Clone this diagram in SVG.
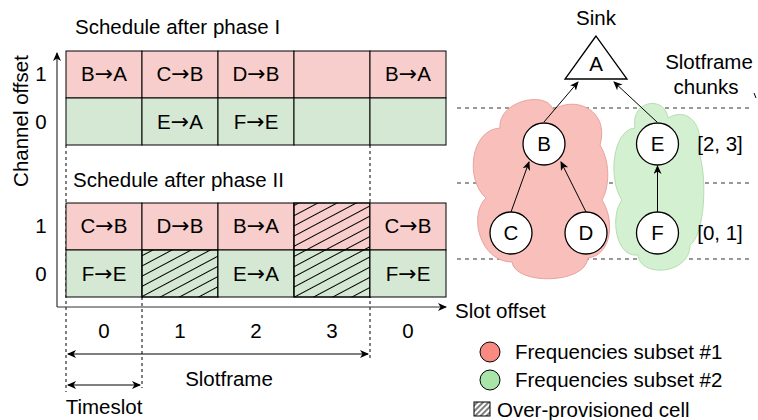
<svg xmlns="http://www.w3.org/2000/svg" width="758" height="420" viewBox="0 0 758 420">
<style>
text{font-family:"Liberation Sans",Arial,sans-serif;font-size:20.5px;fill:#000}
.m{text-anchor:middle}
.ar{font-family:"DejaVu Sans",sans-serif;font-size:22px}
.red{fill:#f8cecc;stroke:#000;stroke-width:1}
.grn{fill:#d5e8d4;stroke:#000;stroke-width:1}
.hat{fill:url(#hatch);stroke:#000;stroke-width:1}
.dash{stroke:#000;stroke-width:1;stroke-dasharray:3 3;fill:none}
.hdash{stroke:#333;stroke-width:1;stroke-dasharray:4 4;fill:none}
.node{fill:#fff;stroke:#000;stroke-width:1.3}
.conn{stroke:#000;stroke-width:1;fill:none;marker-end:url(#arr)}
</style>
<defs>
<marker id="arr" markerWidth="10" markerHeight="10" refX="8" refY="4" orient="auto-start-reverse" markerUnits="userSpaceOnUse">
<path d="M0,0 L9,4 L0,8 L2.5,4 Z" fill="#000"/>
</marker>
<pattern id="hatch" patternUnits="userSpaceOnUse" width="9" height="9" patternTransform="rotate(-28)">
<line x1="0" y1="4.5" x2="9" y2="4.5" stroke="#000" stroke-width="1"/>
</pattern>
<pattern id="hatchL" patternUnits="userSpaceOnUse" width="4" height="4" patternTransform="rotate(-45)">
<line x1="0" y1="2" x2="4" y2="2" stroke="#000" stroke-width="1"/>
</pattern>
</defs>

<!-- guide dashed lines -->
<g id="guides">
<line class="dash" x1="66" y1="145" x2="66" y2="392"/>
<line class="dash" x1="142" y1="297" x2="142" y2="388"/>
<line class="dash" x1="370" y1="145" x2="370" y2="358"/>
<line class="hdash" x1="457" y1="108" x2="752" y2="108"/>
<line class="hdash" x1="457" y1="183" x2="752" y2="183"/>
<line class="hdash" x1="457" y1="259" x2="752" y2="259"/>
<line x1="754" y1="93" x2="756" y2="98" stroke="#000" stroke-width="1"/>
</g>

<!-- clouds -->
<g id="cloud-red">
<path d="M500,128 C498,100 548,90 553,110 C575,95 610,110 600,145 C612,165 608,190 602,200 C615,220 612,255 588,258 C585,285 515,285 512,262 C480,262 468,215 486,198 C465,180 470,130 500,128 Z" fill="#f8bfbb" stroke="#e8a4a0" stroke-width="1"/>
</g>
<g id="cloud-green">
<path d="M635,128 C630,100 665,95 668,118 C690,105 705,130 698,150 C708,175 705,235 690,245 C690,275 640,278 638,255 C615,258 610,215 622,200 C608,180 612,130 635,128 Z" fill="#d3f0d0" stroke="#b5dfb0" stroke-width="1"/>
</g>

<!-- top schedule -->
<g id="schedule1">
<text x="75" y="34">Schedule after phase I</text>
<rect class="red" x="66" y="51" width="76" height="47"/>
<rect class="red" x="142" y="51" width="76" height="47"/>
<rect class="red" x="218" y="51" width="76" height="47"/>
<rect class="red" x="294" y="51" width="76" height="47"/>
<rect class="red" x="370" y="51" width="76" height="47"/>
<rect class="grn" x="66" y="98" width="76" height="47"/>
<rect class="grn" x="142" y="98" width="76" height="47"/>
<rect class="grn" x="218" y="98" width="76" height="47"/>
<rect class="grn" x="294" y="98" width="76" height="47"/>
<rect class="grn" x="370" y="98" width="76" height="47"/>
<text class="m" x="104" y="81">B<tspan class="ar">→</tspan>A</text>
<text class="m" x="180" y="81">C<tspan class="ar">→</tspan>B</text>
<text class="m" x="256" y="81">D<tspan class="ar">→</tspan>B</text>
<text class="m" x="408" y="81">B<tspan class="ar">→</tspan>A</text>
<text class="m" x="180" y="129">E<tspan class="ar">→</tspan>A</text>
<text class="m" x="256" y="129">F<tspan class="ar">→</tspan>E</text>
</g>

<!-- bottom schedule -->
<g id="schedule2">
<text x="73" y="187">Schedule after phase II</text>
<rect class="red" x="66" y="203" width="76" height="47"/>
<rect class="red" x="142" y="203" width="76" height="47"/>
<rect class="red" x="218" y="203" width="76" height="47"/>
<rect class="red" x="294" y="203" width="76" height="47"/>
<rect class="hat" x="294" y="203" width="76" height="47"/>
<rect class="red" x="370" y="203" width="76" height="47"/>
<rect class="grn" x="66" y="250" width="76" height="47"/>
<rect class="grn" x="142" y="250" width="76" height="47"/>
<rect class="hat" x="142" y="250" width="76" height="47"/>
<rect class="grn" x="218" y="250" width="76" height="47"/>
<rect class="grn" x="294" y="250" width="76" height="47"/>
<rect class="hat" x="294" y="250" width="76" height="47"/>
<rect class="grn" x="370" y="250" width="76" height="47"/>
<text class="m" x="104" y="233">C<tspan class="ar">→</tspan>B</text>
<text class="m" x="180" y="233">D<tspan class="ar">→</tspan>B</text>
<text class="m" x="256" y="233">B<tspan class="ar">→</tspan>A</text>
<text class="m" x="408" y="233">C<tspan class="ar">→</tspan>B</text>
<text class="m" x="104" y="281">F<tspan class="ar">→</tspan>E</text>
<text class="m" x="256" y="281">E<tspan class="ar">→</tspan>A</text>
<text class="m" x="408" y="281">F<tspan class="ar">→</tspan>E</text>
</g>

<!-- axes -->
<g id="axes">
<line x1="57" y1="307" x2="57" y2="53" stroke="#333" stroke-width="1.2" marker-end="url(#arr)"/>
<line x1="57" y1="307" x2="446" y2="307" stroke="#333" stroke-width="1.2" marker-end="url(#arr)"/>
<text class="m" transform="translate(28,121) rotate(-90)">Channel offset</text>
<text class="m" x="41" y="81">1</text>
<text class="m" x="41" y="129">0</text>
<text class="m" x="41" y="233">1</text>
<text class="m" x="41" y="281">0</text>
<text x="455" y="318">Slot offset</text>
<text class="m" x="104" y="338">0</text>
<text class="m" x="180" y="338">1</text>
<text class="m" x="256" y="338">2</text>
<text class="m" x="332" y="338">3</text>
<text class="m" x="408" y="338">0</text>
</g>

<g id="dimensions">
<line x1="68" y1="354" x2="368" y2="354" stroke="#000" stroke-width="1" marker-start="url(#arr)" marker-end="url(#arr)"/>
<text class="m" x="229" y="386">Slotframe</text>
<line x1="68" y1="385" x2="140" y2="385" stroke="#000" stroke-width="1" marker-start="url(#arr)" marker-end="url(#arr)"/>
<text class="m" x="104" y="414">Timeslot</text>
</g>

<!-- tree connectors -->
<g id="connectors">
<line class="conn" x1="544" y1="122" x2="578" y2="82"/>
<line class="conn" x1="657" y1="122" x2="614" y2="82"/>
<line class="conn" x1="511" y1="212" x2="529" y2="162"/>
<line class="conn" x1="586" y1="212" x2="561" y2="162"/>
<line class="conn" x1="657.5" y1="212" x2="657.5" y2="166"/>
</g>

<!-- tree nodes -->
<g id="node-A">
<text class="m" x="596" y="25">Sink</text>
<polygon points="596,36 565,79 627,79" fill="#fff" stroke="#000" stroke-width="1.3"/>
<text class="m" x="596" y="71">A</text>
</g>
<g id="node-B"><circle class="node" cx="544" cy="144" r="21"/><text class="m" x="544" y="151">B</text></g>
<g id="node-E"><circle class="node" cx="657.5" cy="144" r="21"/><text class="m" x="657.5" y="151">E</text></g>
<g id="node-C"><circle class="node" cx="511" cy="233" r="21"/><text class="m" x="511" y="240">C</text></g>
<g id="node-D"><circle class="node" cx="586" cy="233" r="21"/><text class="m" x="586" y="240">D</text></g>
<g id="node-F"><circle class="node" cx="657.5" cy="233" r="21"/><text class="m" x="657.5" y="240">F</text></g>

<g id="chunks">
<text class="m" x="709" y="69">Slotframe</text>
<text class="m" x="706" y="94">chunks</text>
<text class="m" x="720" y="151">[2, 3]</text>
<text class="m" x="720" y="240">[0, 1]</text>
</g>

<!-- legend -->
<g id="legend">
<circle cx="490" cy="352" r="10" fill="#f88a82" stroke="#000" stroke-width="1"/>
<text x="515" y="359">Frequencies subset #1</text>
<circle cx="490" cy="380" r="10" fill="#a9e4a9" stroke="#000" stroke-width="1"/>
<text x="515" y="387">Frequencies subset #2</text>
<rect x="474" y="402" width="16" height="14" fill="url(#hatchL)" stroke="#000" stroke-width="1"/>
<text x="497" y="417">Over-provisioned cell</text>
</g>
</svg>
